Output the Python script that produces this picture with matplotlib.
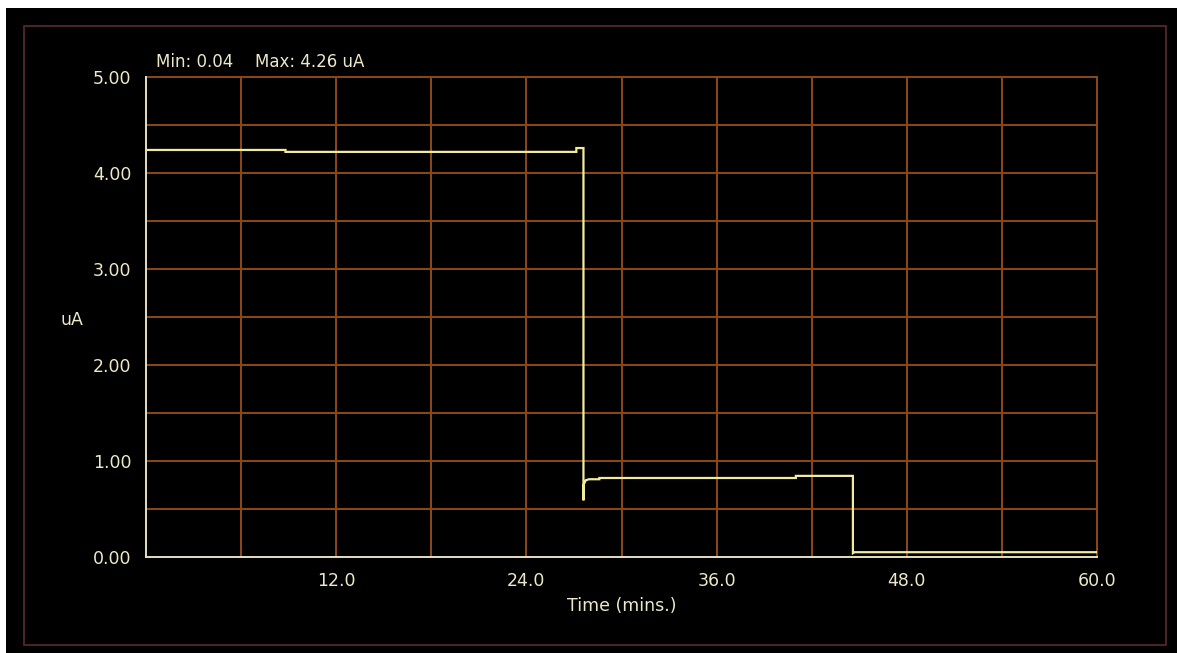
import matplotlib
matplotlib.use("Agg")
import matplotlib.pyplot as plt
from matplotlib.patches import Rectangle
import numpy as np

# Current trace (time in minutes, current in uA)
time_min = [0, 8.8, 8.8, 27.15, 27.15, 27.6, 27.6, 27.6, 27.75, 27.95, 28.6, 28.6,
            41.0, 41.0, 44.6, 44.6, 44.7, 60]
current_ua = [4.24, 4.24, 4.22, 4.22, 4.26, 4.26, 0.59, 0.75, 0.80, 0.81, 0.81, 0.823,
              0.823, 0.845, 0.845, 0.04, 0.05, 0.05]

x_ticks = [12.0, 24.0, 36.0, 48.0, 60.0]
y_ticks = [0.0, 1.0, 2.0, 3.0, 4.0, 5.0]
min_text = "Min: 0.04"
max_text = "Max: 4.26 uA"

W, H = 1177, 653
BG = "#000000"
GRID = "#8a4616"
TRACE = "#f2eb9c"
AXIS = "#e6e0bc"
TEXT = "#ede8c8"
FRAME = "#5c2c2c"

fig = plt.figure(figsize=(W / 100, H / 100), dpi=100, facecolor="white")

# black panel and thin inner frame behind the plot area
fig.patches.append(Rectangle((6 / W, 0), 1 - 6 / W, 1 - 8 / H, transform=fig.transFigure,
                             facecolor=BG, edgecolor="none", zorder=-5))
fig.patches.append(Rectangle((24 / W, 1 - 645 / H), (1166 - 24) / W, (645 - 26) / H,
                             transform=fig.transFigure, facecolor="none",
                             edgecolor=FRAME, linewidth=1.2, zorder=-4))

ax = fig.add_axes([146 / W, (H - 557) / H, 951 / W, 480 / H], zorder=2)
ax.set_facecolor(BG)
ax.set_xlim(0, 60)
ax.set_ylim(0, 5)

# grid every 6 minutes / 0.5 uA
for xv in np.arange(6, 61, 6):
    ax.axvline(xv, color=GRID, linewidth=1.4, zorder=1, antialiased=False, clip_on=False)
for yv in np.arange(0.5, 5.01, 0.5):
    ax.axhline(yv, color=GRID, linewidth=1.4, zorder=1, antialiased=False, clip_on=False)

ax.plot(time_min, current_ua, color=TRACE, linewidth=1.6, zorder=3,
        solid_joinstyle="miter")

for side in ("top", "right"):
    ax.spines[side].set_visible(False)
for side in ("left", "bottom"):
    ax.spines[side].set_color(AXIS)
    ax.spines[side].set_linewidth(1.4)
    ax.spines[side].set_zorder(4)

ax.set_xticks(x_ticks)
ax.set_xticklabels([f"{v:.1f}" for v in x_ticks])
ax.set_yticks(y_ticks)
ax.set_yticklabels([f"{v:.2f}" for v in y_ticks])
ax.tick_params(length=0, colors=TEXT, labelsize=12.5)
ax.tick_params(axis="y", pad=10.5)
ax.tick_params(axis="x", pad=11)

ax.set_xlabel("Time (mins.)", color=TEXT, fontsize=12.5, labelpad=5)
fig.text(72 / W, 1 - 320 / H, "uA", color=TEXT, fontsize=12.5, ha="center", va="center")
fig.text(156 / W, 1 - 62 / H, min_text, color=TEXT, fontsize=12, ha="left", va="center")
fig.text(255 / W, 1 - 62 / H, max_text, color=TEXT, fontsize=12, ha="left", va="center")

fig.savefig("out.png", dpi=100, facecolor="white")
